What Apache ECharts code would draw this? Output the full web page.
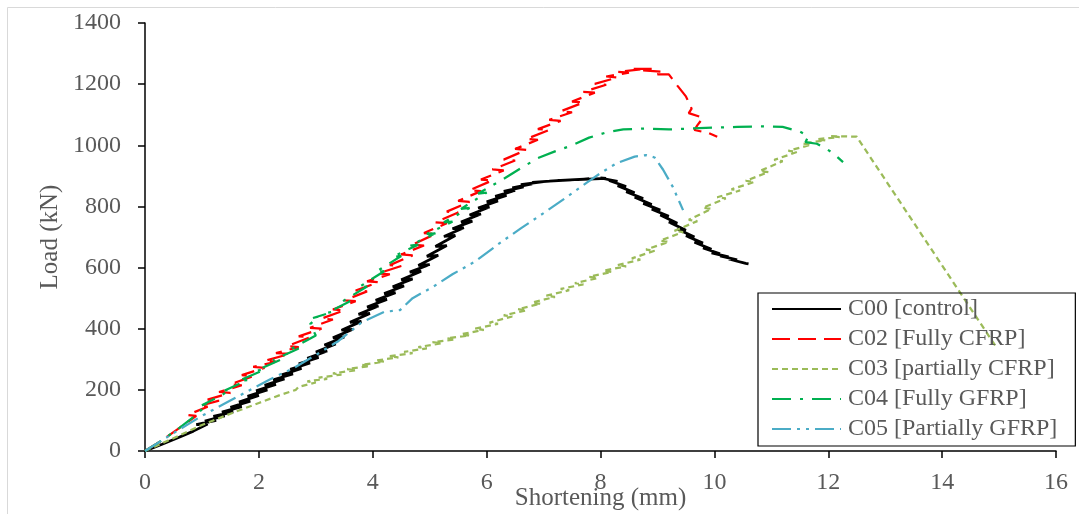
<!DOCTYPE html>
<html>
<head>
<meta charset="utf-8">
<script src="https://cdn.jsdelivr.net/npm/echarts@6/dist/echarts.min.js"></script>
<style>
html,body{margin:0;padding:0;background:#fff;}
#chart{width:1079px;height:514px;}
</style>
</head>
<body>
<div id="chart"></div>
<script>
// Axis ticks
const xTicks = [0, 2, 4, 6, 8, 10, 12, 14, 16];
const yTicks = [0, 200, 400, 600, 800, 1000, 1200, 1400];

// Series names
const seriesNames = ['C00 [control]', 'C02 [Fully CFRP]', 'C03 [partially CFRP]', 'C04 [Fully GFRP]', 'C05 [Partially GFRP]'];

// C00 [control]  [shortening mm, load kN]
const c00 = [[0,0],[0.3,22],[0.6,45],[0.85,65],[1.1,88],[0.9,86],[1.25,100],[1.05,98],[1.4,115],[1.2,113],[1.55,128],[1.35,127],[1.7,145],[1.5,143],[1.85,163],[1.65,160],[2.0,182],[1.8,179],[2.15,200],[1.95,197],[2.3,218],[2.1,215],[2.45,236],[2.25,233],[2.6,252],[2.4,249],[2.75,270],[2.55,267],[2.9,288],[2.7,285],[3.05,306],[2.85,303],[3.2,327],[3.0,324],[3.35,350],[3.15,347],[3.5,373],[3.3,370],[3.65,398],[3.45,395],[3.8,424],[3.6,421],[3.95,450],[3.75,447],[4.1,474],[3.9,471],[4.25,496],[4.05,493],[4.4,518],[4.2,515],[4.55,540],[4.35,537],[4.7,563],[4.5,560],[4.85,588],[4.65,585],[5.0,610],[4.8,607],[5.15,640],[4.95,637],[5.3,672],[5.1,669],[5.45,705],[5.25,702],[5.6,730],[5.4,727],[5.75,752],[5.55,749],[5.9,775],[5.7,772],[6.05,798],[5.85,795],[6.2,818],[6.0,815],[6.35,836],[6.15,833],[6.5,852],[6.3,849],[6.65,864],[6.45,861],[6.8,874],[6.6,871],[7.0,881],[6.8,879],[7.3,885],[7.1,883],[7.5,887],[7.3,885],[7.8,890],[7.6,888],[8.1,892],[8.0,893],[8.3,882],[8.15,885],[8.45,865],[8.3,868],[8.6,845],[8.45,848],[8.75,826],[8.6,830],[8.9,806],[8.75,810],[9.05,788],[8.9,791],[9.2,768],[9.05,772],[9.35,745],[9.2,749],[9.5,722],[9.35,726],[9.65,700],[9.5,704],[9.8,680],[9.65,683],[9.95,660],[9.8,664],[10.1,645],[9.95,648],[10.25,635],[10.1,638],[10.4,625],[10.25,628],[10.55,614],[10.6,612]];

// C02 [Fully CFRP]
const c02 = [[0,0],[0.3,35],[0.6,75],[0.9,115],[0.75,118],[1.1,145],[0.95,147],[1.3,165],[1.1,168],[1.5,190],[1.3,193],[1.7,215],[1.5,218],[1.9,245],[1.7,248],[2.1,272],[1.9,275],[2.3,292],[2.1,295],[2.55,318],[2.3,320],[2.7,340],[2.5,343],[2.9,372],[2.7,375],[3.1,400],[2.9,403],[3.3,430],[3.1,433],[3.5,460],[3.3,463],[3.7,490],[3.5,493],[3.9,522],[3.7,525],[4.1,552],[3.9,555],[4.3,578],[4.1,581],[4.5,605],[4.3,608],[4.7,640],[4.5,643],[4.9,672],[4.7,675],[5.1,710],[4.9,713],[5.3,745],[5.1,748],[5.5,780],[5.3,783],[5.7,815],[5.5,818],[5.9,850],[5.7,853],[6.1,885],[5.9,888],[6.3,918],[6.1,921],[6.5,950],[6.3,953],[6.7,985],[6.5,988],[6.9,1018],[6.7,1021],[7.1,1050],[6.9,1053],[7.3,1080],[7.1,1083],[7.5,1108],[7.3,1111],[7.7,1140],[7.5,1143],[7.9,1172],[7.7,1175],[8.1,1198],[7.9,1201],[8.3,1222],[8.1,1225],[8.5,1238],[8.3,1240],[8.7,1248],[8.55,1250],[8.9,1250],[8.75,1245],[9.1,1240],[9.0,1232],[9.2,1232],[9.35,1195],[9.5,1160],[9.6,1120],[9.55,1105],[9.8,1090],[9.7,1065],[9.65,1050],[9.9,1040],[10.05,1028]];

// C03 [partially CFRP]
const c03 = [[0,0],[0.5,42],[1.0,85],[1.5,122],[2.0,157],[2.4,185],[2.65,200],[2.7,210],[3.0,224],[2.85,228],[3.2,236],[3.05,240],[3.45,250],[3.3,254],[3.7,264],[3.55,268],[3.95,278],[3.8,282],[4.2,292],[4.05,296],[4.45,306],[4.3,310],[4.7,320],[4.55,324],[4.95,336],[4.8,340],[5.2,352],[5.05,356],[5.45,365],[5.3,369],[5.7,378],[5.55,382],[5.95,396],[5.8,400],[6.2,416],[6.05,420],[6.45,440],[6.3,444],[6.7,460],[6.55,464],[6.95,482],[6.8,486],[7.2,504],[7.05,508],[7.45,526],[7.3,530],[7.7,545],[7.55,549],[7.95,566],[7.8,570],[8.2,586],[8.05,590],[8.45,604],[8.3,608],[8.7,626],[8.55,630],[8.95,655],[8.8,659],[9.2,684],[9.05,688],[9.45,716],[9.3,720],[9.7,752],[9.55,756],[9.95,792],[9.8,796],[10.2,826],[10.05,830],[10.45,852],[10.3,856],[10.7,880],[10.55,884],[10.95,912],[10.8,916],[11.2,948],[11.05,952],[11.45,978],[11.3,982],[11.7,1002],[11.55,1006],[11.95,1016],[11.8,1020],[12.2,1027],[12.05,1030],[12.5,1028],[14.95,340]];

// C04 [Fully GFRP]
const c04 = [[0,0],[0.3,35],[0.6,75],[0.9,118],[1.1,155],[1.0,150],[1.3,178],[1.5,200],[1.4,198],[1.8,232],[1.65,230],[2.1,266],[1.95,263],[2.4,300],[2.25,297],[2.7,335],[2.55,332],[3.0,378],[2.9,415],[3.05,440],[2.95,435],[3.3,455],[3.2,452],[3.6,490],[3.45,487],[3.9,538],[3.75,535],[4.2,588],[4.05,585],[4.5,638],[4.35,635],[4.8,675],[4.65,672],[5.1,712],[4.95,710],[5.4,750],[5.25,748],[5.7,795],[5.55,792],[6.0,845],[5.85,842],[6.3,890],[6.6,925],[6.9,958],[7.2,980],[7.5,1000],[7.8,1025],[8.1,1042],[8.4,1052],[8.8,1055],[9.2,1052],[9.6,1055],[10.0,1058],[10.4,1060],[10.8,1062],[11.2,1060],[11.5,1045],[11.65,1030],[11.6,1010],[11.8,1005],[11.95,990],[12.08,975],[12.26,945]];

// C05 [Partially GFRP]
const c05 = [[0,0],[0.3,35],[0.6,70],[1.0,115],[1.4,155],[1.8,195],[2.2,235],[2.6,270],[3.0,314],[3.4,360],[3.8,420],[4.2,455],[4.48,461],[4.7,500],[5.06,537],[5.4,578],[5.8,620],[6.23,680],[6.6,728],[7.0,778],[7.41,831],[7.76,878],[8.0,909],[8.29,942],[8.6,963],[8.8,968],[8.95,960],[9.1,920],[9.27,864],[9.45,788]];

const colors = ['#000000', '#ff0000', '#9bbb59', '#00b050', '#4bacc6'];
const dashes = ['solid', [18, 8], [6, 4], [19, 9, 3, 9], [19, 6, 3, 6, 3, 6]];
const widths = [2.75, 2.25, 2.25, 2.25, 2.25];
const datasets = [c00, c02, c03, c04, c05];

const FONT = 'Liberation Serif';
const GREY = '#595959';

const chart = echarts.init(document.getElementById('chart'), null, {renderer: 'canvas'});
chart.setOption({
  animation: false,
  backgroundColor: '#ffffff',
  graphic: [{
    type: 'rect', silent: true,
    shape: {x: 7.5, y: 7.5, width: 1200, height: 700},
    style: {fill: 'none', stroke: '#d9d9d9', lineWidth: 1}
  }],
  grid: {left: 145, right: 23, top: 23, bottom: 63, containLabel: false, outerBoundsMode: 'none'},
  xAxis: {
    type: 'value', min: xTicks[0], max: xTicks[xTicks.length - 1], interval: 2,
    name: 'Shortening (mm)', nameLocation: 'middle', nameGap: 35, nameMoveOverlap: false,
    nameTextStyle: {fontFamily: FONT, fontSize: 25, color: GREY},
    axisLine: {lineStyle: {color: '#000', width: 1.5}},
    axisTick: {show: true, inside: false, length: 7, lineStyle: {color: '#000', width: 1.5}},
    axisLabel: {fontFamily: FONT, fontSize: 24, color: GREY, margin: 20},
    splitLine: {show: false}
  },
  yAxis: {
    type: 'value', min: yTicks[0], max: yTicks[yTicks.length - 1], interval: 200,
    name: 'Load (kN)', nameLocation: 'middle', nameGap: 82, nameRotate: 90, nameMoveOverlap: false,
    nameTextStyle: {fontFamily: FONT, fontSize: 25, color: GREY},
    axisLine: {show: true, lineStyle: {color: '#000', width: 1.5}},
    axisTick: {show: true, inside: false, length: 7, lineStyle: {color: '#000', width: 1.5}},
    axisLabel: {fontFamily: FONT, fontSize: 24, color: GREY, margin: 24, formatter: v => String(v)},
    splitLine: {show: false}
  },
  legend: {
    show: true, orient: 'vertical', left: 758, top: 293,
    padding: [4, 18, 5, 13], itemGap: 6, itemWidth: 69, itemHeight: 14,
    borderColor: '#000', borderWidth: 1.2, backgroundColor: 'transparent',
    itemStyle: {opacity: 0},
    textStyle: {fontFamily: FONT, fontSize: 24, color: GREY, padding: [0, 0, 0, 2]},
    data: seriesNames
  },
  series: datasets.map((d, i) => ({
    name: seriesNames[i], type: 'line', data: d, symbol: 'none', showSymbol: false,
    smooth: false, clip: true,
    lineStyle: {color: colors[i], width: widths[i], type: dashes[i]},
    itemStyle: {color: colors[i]}
  }))
});
</script>
</body>
</html>
